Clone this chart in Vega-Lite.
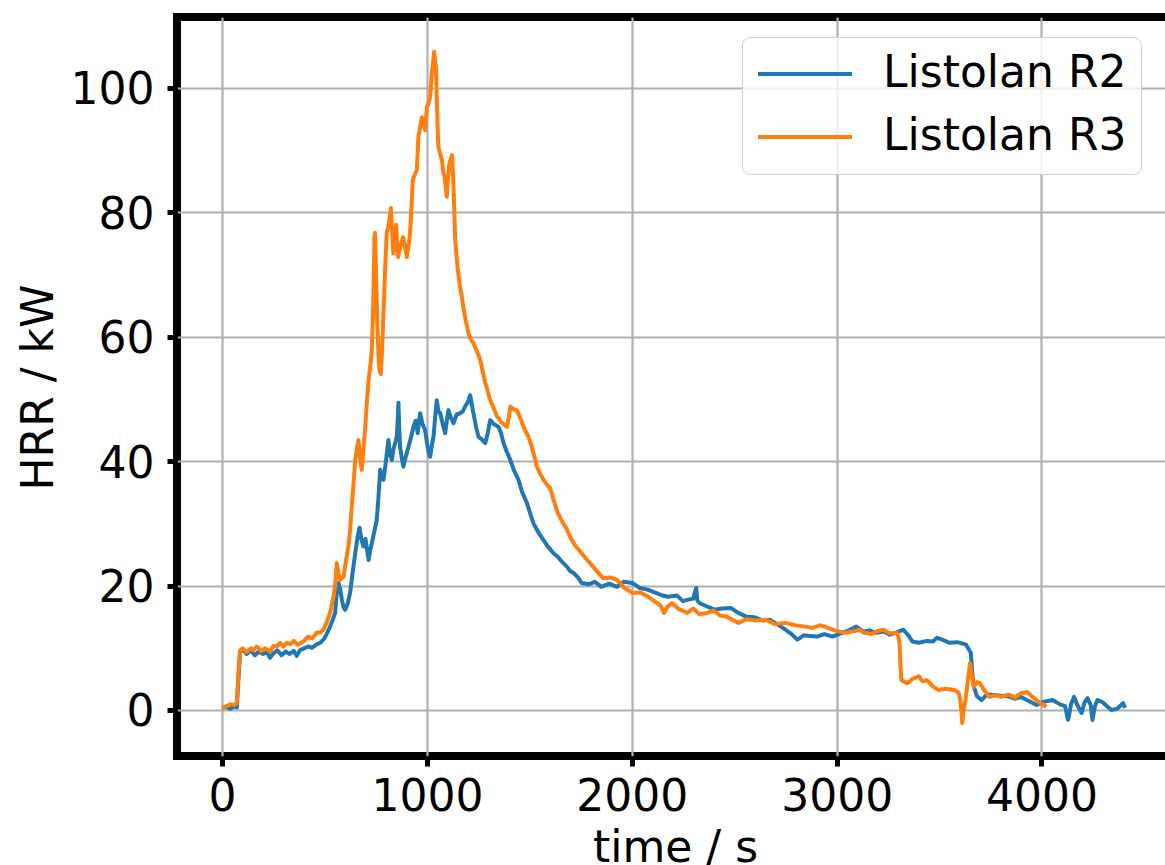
{
"$schema": "https://vega.github.io/schema/vega-lite/v6.json",
"width": 996, "height": 739,
"autosize": {"type": "none"},
"padding": {"left": 177, "top": 17, "right": 0, "bottom": 109},
"background": "white",
"config": {
  "font": "DejaVu Sans",
  "view": {"stroke": "black", "strokeWidth": 8},
  "axis": {"labelFontSize": 44, "labelColor": "black", "titleFontSize": 44, "titleFontWeight": "normal", "titleColor": "black", "tickColor": "black", "tickWidth": 5, "tickSize": 10, "domain": false, "grid": true, "gridColor": "#b0b0b0", "gridWidth": 2.2, "labelFlush": false, "labelOverlap": false}
},
"data": {"values": [
{"s":"Listolan R2","t":0,"y":0.3},{"s":"Listolan R2","t":20,"y":0.5},{"s":"Listolan R2","t":40,"y":0.2},{"s":"Listolan R2","t":60,"y":0.6},{"s":"Listolan R2","t":72,"y":0.4},{"s":"Listolan R2","t":80,"y":5},{"s":"Listolan R2","t":88,"y":9.2},{"s":"Listolan R2","t":100,"y":9.8},{"s":"Listolan R2","t":120,"y":9.0},{"s":"Listolan R2","t":140,"y":9.6},{"s":"Listolan R2","t":160,"y":8.8},{"s":"Listolan R2","t":180,"y":9.4},{"s":"Listolan R2","t":200,"y":9.0},{"s":"Listolan R2","t":220,"y":9.3},{"s":"Listolan R2","t":234,"y":8.4},{"s":"Listolan R2","t":250,"y":9.1},{"s":"Listolan R2","t":270,"y":9.6},{"s":"Listolan R2","t":290,"y":8.8},{"s":"Listolan R2","t":310,"y":9.4},{"s":"Listolan R2","t":330,"y":9.0},{"s":"Listolan R2","t":350,"y":9.5},{"s":"Listolan R2","t":365,"y":8.7},{"s":"Listolan R2","t":380,"y":9.6},{"s":"Listolan R2","t":400,"y":9.9},{"s":"Listolan R2","t":420,"y":10.2},{"s":"Listolan R2","t":440,"y":10.0},{"s":"Listolan R2","t":460,"y":10.5},{"s":"Listolan R2","t":479,"y":10.8},{"s":"Listolan R2","t":500,"y":11.5},{"s":"Listolan R2","t":515,"y":12.5},{"s":"Listolan R2","t":527,"y":13.4},{"s":"Listolan R2","t":540,"y":14.5},{"s":"Listolan R2","t":552,"y":15.6},{"s":"Listolan R2","t":560,"y":19},{"s":"Listolan R2","t":568,"y":20.4},{"s":"Listolan R2","t":576,"y":19.5},{"s":"Listolan R2","t":585,"y":17.7},{"s":"Listolan R2","t":593,"y":16.5},{"s":"Listolan R2","t":601,"y":16.1},{"s":"Listolan R2","t":612,"y":17},{"s":"Listolan R2","t":625,"y":18.8},{"s":"Listolan R2","t":637,"y":22},{"s":"Listolan R2","t":650,"y":25.2},{"s":"Listolan R2","t":660,"y":27.5},{"s":"Listolan R2","t":671,"y":29.3},{"s":"Listolan R2","t":680,"y":27.5},{"s":"Listolan R2","t":690,"y":26.3},{"s":"Listolan R2","t":700,"y":27.5},{"s":"Listolan R2","t":715,"y":24.1},{"s":"Listolan R2","t":722,"y":25.5},{"s":"Listolan R2","t":731,"y":26.8},{"s":"Listolan R2","t":742,"y":28.5},{"s":"Listolan R2","t":755,"y":30.5},{"s":"Listolan R2","t":763,"y":34},{"s":"Listolan R2","t":772,"y":38.6},{"s":"Listolan R2","t":780,"y":37.5},{"s":"Listolan R2","t":788,"y":37},{"s":"Listolan R2","t":800,"y":40},{"s":"Listolan R2","t":812,"y":43.4},{"s":"Listolan R2","t":820,"y":41},{"s":"Listolan R2","t":829,"y":40.2},{"s":"Listolan R2","t":837,"y":42},{"s":"Listolan R2","t":845,"y":42.9},{"s":"Listolan R2","t":853,"y":44},{"s":"Listolan R2","t":858,"y":47},{"s":"Listolan R2","t":861,"y":49.4},{"s":"Listolan R2","t":864,"y":46},{"s":"Listolan R2","t":869,"y":42.3},{"s":"Listolan R2","t":877,"y":40.5},{"s":"Listolan R2","t":885,"y":39.1},{"s":"Listolan R2","t":895,"y":40.5},{"s":"Listolan R2","t":910,"y":42.3},{"s":"Listolan R2","t":920,"y":43.5},{"s":"Listolan R2","t":934,"y":45.5},{"s":"Listolan R2","t":945,"y":46.5},{"s":"Listolan R2","t":955,"y":44.5},{"s":"Listolan R2","t":967,"y":47.7},{"s":"Listolan R2","t":978,"y":46},{"s":"Listolan R2","t":991,"y":45},{"s":"Listolan R2","t":1000,"y":43},{"s":"Listolan R2","t":1008,"y":41.5},{"s":"Listolan R2","t":1016,"y":40.7},{"s":"Listolan R2","t":1024,"y":42.5},{"s":"Listolan R2","t":1032,"y":43.9},{"s":"Listolan R2","t":1040,"y":47},{"s":"Listolan R2","t":1048,"y":49.8},{"s":"Listolan R2","t":1056,"y":48},{"s":"Listolan R2","t":1065,"y":47.7},{"s":"Listolan R2","t":1077,"y":46},{"s":"Listolan R2","t":1089,"y":44.5},{"s":"Listolan R2","t":1097,"y":46.5},{"s":"Listolan R2","t":1105,"y":48.2},{"s":"Listolan R2","t":1117,"y":47},{"s":"Listolan R2","t":1130,"y":46.1},{"s":"Listolan R2","t":1145,"y":47.5},{"s":"Listolan R2","t":1162,"y":47.7},{"s":"Listolan R2","t":1175,"y":48},{"s":"Listolan R2","t":1187,"y":48.8},{"s":"Listolan R2","t":1200,"y":49.5},{"s":"Listolan R2","t":1211,"y":50.6},{"s":"Listolan R2","t":1220,"y":49},{"s":"Listolan R2","t":1227,"y":47.7},{"s":"Listolan R2","t":1240,"y":45.5},{"s":"Listolan R2","t":1252,"y":43.9},{"s":"Listolan R2","t":1268,"y":43.5},{"s":"Listolan R2","t":1285,"y":42.9},{"s":"Listolan R2","t":1297,"y":44.5},{"s":"Listolan R2","t":1309,"y":46.6},{"s":"Listolan R2","t":1325,"y":46},{"s":"Listolan R2","t":1350,"y":45.5},{"s":"Listolan R2","t":1362,"y":44.5},{"s":"Listolan R2","t":1374,"y":42.9},{"s":"Listolan R2","t":1390,"y":41.5},{"s":"Listolan R2","t":1407,"y":40.2},{"s":"Listolan R2","t":1425,"y":38.5},{"s":"Listolan R2","t":1447,"y":37},{"s":"Listolan R2","t":1465,"y":35},{"s":"Listolan R2","t":1488,"y":33.3},{"s":"Listolan R2","t":1505,"y":31.5},{"s":"Listolan R2","t":1520,"y":30},{"s":"Listolan R2","t":1545,"y":28.5},{"s":"Listolan R2","t":1569,"y":27.3},{"s":"Listolan R2","t":1590,"y":26.3},{"s":"Listolan R2","t":1618,"y":25.2},{"s":"Listolan R2","t":1640,"y":24.6},{"s":"Listolan R2","t":1660,"y":23.8},{"s":"Listolan R2","t":1684,"y":23},{"s":"Listolan R2","t":1700,"y":22.3},{"s":"Listolan R2","t":1717,"y":22},{"s":"Listolan R2","t":1740,"y":21.2},{"s":"Listolan R2","t":1755,"y":20.4},{"s":"Listolan R2","t":1790,"y":20.2},{"s":"Listolan R2","t":1820,"y":20.6},{"s":"Listolan R2","t":1851,"y":19.8},{"s":"Listolan R2","t":1890,"y":20.3},{"s":"Listolan R2","t":1928,"y":19.8},{"s":"Listolan R2","t":1960,"y":20.6},{"s":"Listolan R2","t":2004,"y":20.4},{"s":"Listolan R2","t":2040,"y":19.6},{"s":"Listolan R2","t":2081,"y":19.3},{"s":"Listolan R2","t":2120,"y":18.8},{"s":"Listolan R2","t":2150,"y":18.4},{"s":"Listolan R2","t":2177,"y":18.2},{"s":"Listolan R2","t":2220,"y":18.4},{"s":"Listolan R2","t":2250,"y":17.5},{"s":"Listolan R2","t":2271,"y":17.7},{"s":"Listolan R2","t":2300,"y":17.9},{"s":"Listolan R2","t":2314,"y":19.6},{"s":"Listolan R2","t":2320,"y":17.6},{"s":"Listolan R2","t":2330,"y":17.2},{"s":"Listolan R2","t":2370,"y":16.6},{"s":"Listolan R2","t":2406,"y":16.1},{"s":"Listolan R2","t":2440,"y":16.3},{"s":"Listolan R2","t":2483,"y":16.4},{"s":"Listolan R2","t":2520,"y":15.6},{"s":"Listolan R2","t":2559,"y":15},{"s":"Listolan R2","t":2600,"y":14.9},{"s":"Listolan R2","t":2640,"y":14.4},{"s":"Listolan R2","t":2674,"y":14.5},{"s":"Listolan R2","t":2710,"y":13.8},{"s":"Listolan R2","t":2750,"y":12.9},{"s":"Listolan R2","t":2780,"y":12.2},{"s":"Listolan R2","t":2808,"y":11.3},{"s":"Listolan R2","t":2840,"y":12.0},{"s":"Listolan R2","t":2870,"y":11.9},{"s":"Listolan R2","t":2904,"y":11.8},{"s":"Listolan R2","t":2940,"y":12.2},{"s":"Listolan R2","t":2980,"y":11.8},{"s":"Listolan R2","t":3020,"y":12.3},{"s":"Listolan R2","t":3060,"y":12.8},{"s":"Listolan R2","t":3096,"y":13.4},{"s":"Listolan R2","t":3130,"y":12.6},{"s":"Listolan R2","t":3160,"y":12.8},{"s":"Listolan R2","t":3192,"y":12.4},{"s":"Listolan R2","t":3230,"y":12.6},{"s":"Listolan R2","t":3260,"y":12.1},{"s":"Listolan R2","t":3287,"y":12.4},{"s":"Listolan R2","t":3326,"y":12.9},{"s":"Listolan R2","t":3350,"y":12.0},{"s":"Listolan R2","t":3370,"y":11.0},{"s":"Listolan R2","t":3402,"y":10.8},{"s":"Listolan R2","t":3440,"y":11.1},{"s":"Listolan R2","t":3470,"y":11.0},{"s":"Listolan R2","t":3490,"y":11.6},{"s":"Listolan R2","t":3516,"y":11.3},{"s":"Listolan R2","t":3550,"y":10.8},{"s":"Listolan R2","t":3590,"y":10.9},{"s":"Listolan R2","t":3632,"y":10.5},{"s":"Listolan R2","t":3655,"y":9.2},{"s":"Listolan R2","t":3662,"y":6},{"s":"Listolan R2","t":3670,"y":3.7},{"s":"Listolan R2","t":3685,"y":2.2},{"s":"Listolan R2","t":3707,"y":1.6},{"s":"Listolan R2","t":3735,"y":2.5},{"s":"Listolan R2","t":3766,"y":2.4},{"s":"Listolan R2","t":3800,"y":2.3},{"s":"Listolan R2","t":3840,"y":2.2},{"s":"Listolan R2","t":3870,"y":1.8},{"s":"Listolan R2","t":3900,"y":2.1},{"s":"Listolan R2","t":3940,"y":1.4},{"s":"Listolan R2","t":3976,"y":0.8},{"s":"Listolan R2","t":4010,"y":1.3},{"s":"Listolan R2","t":4054,"y":1.6},{"s":"Listolan R2","t":4090,"y":0.9},{"s":"Listolan R2","t":4115,"y":0.6},{"s":"Listolan R2","t":4130,"y":-1.6},{"s":"Listolan R2","t":4145,"y":1.0},{"s":"Listolan R2","t":4159,"y":2.1},{"s":"Listolan R2","t":4175,"y":0.8},{"s":"Listolan R2","t":4196,"y":-0.5},{"s":"Listolan R2","t":4210,"y":1.2},{"s":"Listolan R2","t":4225,"y":1.9},{"s":"Listolan R2","t":4240,"y":0.8},{"s":"Listolan R2","t":4249,"y":-1.6},{"s":"Listolan R2","t":4260,"y":0.5},{"s":"Listolan R2","t":4273,"y":1.6},{"s":"Listolan R2","t":4300,"y":1.2},{"s":"Listolan R2","t":4320,"y":0.6},{"s":"Listolan R2","t":4341,"y":0.0},{"s":"Listolan R2","t":4370,"y":0.2},{"s":"Listolan R2","t":4398,"y":1.1},{"s":"Listolan R2","t":4408,"y":0.3},
{"s":"Listolan R3","t":0,"y":0.3},{"s":"Listolan R3","t":20,"y":0.6},{"s":"Listolan R3","t":40,"y":0.9},{"s":"Listolan R3","t":60,"y":0.8},{"s":"Listolan R3","t":72,"y":1.1},{"s":"Listolan R3","t":80,"y":6},{"s":"Listolan R3","t":88,"y":9.6},{"s":"Listolan R3","t":100,"y":9.9},{"s":"Listolan R3","t":120,"y":9.3},{"s":"Listolan R3","t":140,"y":9.9},{"s":"Listolan R3","t":151,"y":9.6},{"s":"Listolan R3","t":170,"y":10.2},{"s":"Listolan R3","t":190,"y":9.5},{"s":"Listolan R3","t":210,"y":9.9},{"s":"Listolan R3","t":234,"y":9.4},{"s":"Listolan R3","t":250,"y":10.3},{"s":"Listolan R3","t":267,"y":10.2},{"s":"Listolan R3","t":285,"y":10.8},{"s":"Listolan R3","t":300,"y":10.2},{"s":"Listolan R3","t":316,"y":10.8},{"s":"Listolan R3","t":335,"y":10.6},{"s":"Listolan R3","t":350,"y":11.1},{"s":"Listolan R3","t":370,"y":10.5},{"s":"Listolan R3","t":397,"y":11.0},{"s":"Listolan R3","t":420,"y":11.8},{"s":"Listolan R3","t":440,"y":11.5},{"s":"Listolan R3","t":462,"y":12.4},{"s":"Listolan R3","t":480,"y":12.5},{"s":"Listolan R3","t":495,"y":12.9},{"s":"Listolan R3","t":510,"y":14},{"s":"Listolan R3","t":527,"y":15.6},{"s":"Listolan R3","t":544,"y":18.2},{"s":"Listolan R3","t":552,"y":20},{"s":"Listolan R3","t":560,"y":23.6},{"s":"Listolan R3","t":568,"y":22},{"s":"Listolan R3","t":576,"y":20.9},{"s":"Listolan R3","t":585,"y":21.2},{"s":"Listolan R3","t":593,"y":21.4},{"s":"Listolan R3","t":605,"y":24},{"s":"Listolan R3","t":617,"y":26.3},{"s":"Listolan R3","t":625,"y":29},{"s":"Listolan R3","t":633,"y":32.7},{"s":"Listolan R3","t":641,"y":36},{"s":"Listolan R3","t":650,"y":40.2},{"s":"Listolan R3","t":658,"y":42},{"s":"Listolan R3","t":666,"y":43.4},{"s":"Listolan R3","t":672,"y":41},{"s":"Listolan R3","t":682,"y":38.6},{"s":"Listolan R3","t":690,"y":42},{"s":"Listolan R3","t":698,"y":45},{"s":"Listolan R3","t":706,"y":49},{"s":"Listolan R3","t":715,"y":53},{"s":"Listolan R3","t":723,"y":55},{"s":"Listolan R3","t":731,"y":57.9},{"s":"Listolan R3","t":738,"y":65},{"s":"Listolan R3","t":744,"y":76},{"s":"Listolan R3","t":747,"y":76.7},{"s":"Listolan R3","t":752,"y":70},{"s":"Listolan R3","t":758,"y":62},{"s":"Listolan R3","t":765,"y":56},{"s":"Listolan R3","t":770,"y":54.5},{"s":"Listolan R3","t":775,"y":54},{"s":"Listolan R3","t":781,"y":58},{"s":"Listolan R3","t":787,"y":63},{"s":"Listolan R3","t":795,"y":70},{"s":"Listolan R3","t":804,"y":76.7},{"s":"Listolan R3","t":814,"y":78},{"s":"Listolan R3","t":824,"y":80.7},{"s":"Listolan R3","t":830,"y":77},{"s":"Listolan R3","t":836,"y":73.4},{"s":"Listolan R3","t":843,"y":76},{"s":"Listolan R3","t":850,"y":78},{"s":"Listolan R3","t":855,"y":74.5},{"s":"Listolan R3","t":860,"y":72.8},{"s":"Listolan R3","t":870,"y":74.5},{"s":"Listolan R3","t":884,"y":76},{"s":"Listolan R3","t":893,"y":74.5},{"s":"Listolan R3","t":902,"y":72.8},{"s":"Listolan R3","t":910,"y":74.5},{"s":"Listolan R3","t":918,"y":76.7},{"s":"Listolan R3","t":924,"y":80.5},{"s":"Listolan R3","t":931,"y":85.2},{"s":"Listolan R3","t":940,"y":86},{"s":"Listolan R3","t":951,"y":86.8},{"s":"Listolan R3","t":958,"y":92},{"s":"Listolan R3","t":966,"y":93.5},{"s":"Listolan R3","t":975,"y":95.3},{"s":"Listolan R3","t":983,"y":94.5},{"s":"Listolan R3","t":991,"y":93.2},{"s":"Listolan R3","t":1000,"y":97},{"s":"Listolan R3","t":1008,"y":97.5},{"s":"Listolan R3","t":1016,"y":98.6},{"s":"Listolan R3","t":1024,"y":102.4},{"s":"Listolan R3","t":1030,"y":104},{"s":"Listolan R3","t":1035,"y":105.8},{"s":"Listolan R3","t":1040,"y":104.5},{"s":"Listolan R3","t":1044,"y":103.4},{"s":"Listolan R3","t":1048,"y":98.6},{"s":"Listolan R3","t":1052,"y":94},{"s":"Listolan R3","t":1056,"y":90.5},{"s":"Listolan R3","t":1064,"y":89.5},{"s":"Listolan R3","t":1073,"y":88.4},{"s":"Listolan R3","t":1080,"y":86.5},{"s":"Listolan R3","t":1086,"y":85.7},{"s":"Listolan R3","t":1092,"y":84},{"s":"Listolan R3","t":1097,"y":82.5},{"s":"Listolan R3","t":1104,"y":86},{"s":"Listolan R3","t":1110,"y":87.9},{"s":"Listolan R3","t":1116,"y":88.5},{"s":"Listolan R3","t":1122,"y":89.2},{"s":"Listolan R3","t":1126,"y":87},{"s":"Listolan R3","t":1130,"y":84.1},{"s":"Listolan R3","t":1134,"y":80},{"s":"Listolan R3","t":1138,"y":75.6},{"s":"Listolan R3","t":1150,"y":71},{"s":"Listolan R3","t":1162,"y":68},{"s":"Listolan R3","t":1170,"y":66.5},{"s":"Listolan R3","t":1178,"y":64.8},{"s":"Listolan R3","t":1190,"y":62.5},{"s":"Listolan R3","t":1203,"y":60.6},{"s":"Listolan R3","t":1215,"y":59.5},{"s":"Listolan R3","t":1227,"y":59},{"s":"Listolan R3","t":1245,"y":57.6},{"s":"Listolan R3","t":1260,"y":56.3},{"s":"Listolan R3","t":1272,"y":54.5},{"s":"Listolan R3","t":1285,"y":52.6},{"s":"Listolan R3","t":1297,"y":51.2},{"s":"Listolan R3","t":1309,"y":49.8},{"s":"Listolan R3","t":1325,"y":48.6},{"s":"Listolan R3","t":1342,"y":47.2},{"s":"Listolan R3","t":1365,"y":46.2},{"s":"Listolan R3","t":1390,"y":45.5},{"s":"Listolan R3","t":1400,"y":47},{"s":"Listolan R3","t":1407,"y":48.8},{"s":"Listolan R3","t":1420,"y":48.4},{"s":"Listolan R3","t":1439,"y":48.2},{"s":"Listolan R3","t":1455,"y":47},{"s":"Listolan R3","t":1472,"y":45.5},{"s":"Listolan R3","t":1485,"y":44.6},{"s":"Listolan R3","t":1496,"y":43.9},{"s":"Listolan R3","t":1510,"y":42.5},{"s":"Listolan R3","t":1520,"y":41.3},{"s":"Listolan R3","t":1537,"y":39.1},{"s":"Listolan R3","t":1552,"y":38},{"s":"Listolan R3","t":1569,"y":37},{"s":"Listolan R3","t":1585,"y":36.3},{"s":"Listolan R3","t":1602,"y":35.6},{"s":"Listolan R3","t":1620,"y":33.6},{"s":"Listolan R3","t":1640,"y":31.6},{"s":"Listolan R3","t":1660,"y":30.3},{"s":"Listolan R3","t":1684,"y":29},{"s":"Listolan R3","t":1698,"y":27.9},{"s":"Listolan R3","t":1720,"y":26.6},{"s":"Listolan R3","t":1755,"y":25.2},{"s":"Listolan R3","t":1785,"y":24},{"s":"Listolan R3","t":1812,"y":23},{"s":"Listolan R3","t":1840,"y":21.9},{"s":"Listolan R3","t":1861,"y":21.2},{"s":"Listolan R3","t":1895,"y":21.3},{"s":"Listolan R3","t":1928,"y":20.9},{"s":"Listolan R3","t":1965,"y":19.6},{"s":"Listolan R3","t":2004,"y":18.8},{"s":"Listolan R3","t":2040,"y":18.9},{"s":"Listolan R3","t":2081,"y":18.2},{"s":"Listolan R3","t":2110,"y":17.5},{"s":"Listolan R3","t":2140,"y":16.8},{"s":"Listolan R3","t":2157,"y":15.6},{"s":"Listolan R3","t":2175,"y":16.6},{"s":"Listolan R3","t":2196,"y":17.2},{"s":"Listolan R3","t":2230,"y":16.2},{"s":"Listolan R3","t":2271,"y":15.6},{"s":"Listolan R3","t":2300,"y":16.3},{"s":"Listolan R3","t":2330,"y":15.4},{"s":"Listolan R3","t":2368,"y":15.6},{"s":"Listolan R3","t":2400,"y":16},{"s":"Listolan R3","t":2430,"y":15.2},{"s":"Listolan R3","t":2464,"y":15},{"s":"Listolan R3","t":2490,"y":14.5},{"s":"Listolan R3","t":2521,"y":14},{"s":"Listolan R3","t":2560,"y":14.6},{"s":"Listolan R3","t":2600,"y":14.4},{"s":"Listolan R3","t":2655,"y":14.5},{"s":"Listolan R3","t":2700,"y":13.8},{"s":"Listolan R3","t":2750,"y":14},{"s":"Listolan R3","t":2800,"y":13.6},{"s":"Listolan R3","t":2847,"y":13.4},{"s":"Listolan R3","t":2880,"y":13.2},{"s":"Listolan R3","t":2920,"y":13.6},{"s":"Listolan R3","t":2943,"y":13.4},{"s":"Listolan R3","t":2990,"y":12.8},{"s":"Listolan R3","t":3038,"y":12.4},{"s":"Listolan R3","t":3080,"y":12.6},{"s":"Listolan R3","t":3110,"y":12.9},{"s":"Listolan R3","t":3134,"y":12.4},{"s":"Listolan R3","t":3170,"y":12.2},{"s":"Listolan R3","t":3200,"y":12.7},{"s":"Listolan R3","t":3229,"y":12.9},{"s":"Listolan R3","t":3260,"y":12.3},{"s":"Listolan R3","t":3297,"y":12.4},{"s":"Listolan R3","t":3303,"y":11.5},{"s":"Listolan R3","t":3307,"y":10.8},{"s":"Listolan R3","t":3312,"y":7},{"s":"Listolan R3","t":3316,"y":4.8},{"s":"Listolan R3","t":3345,"y":4.3},{"s":"Listolan R3","t":3370,"y":5.0},{"s":"Listolan R3","t":3402,"y":5.4},{"s":"Listolan R3","t":3420,"y":4.6},{"s":"Listolan R3","t":3441,"y":4.8},{"s":"Listolan R3","t":3470,"y":3.8},{"s":"Listolan R3","t":3497,"y":3.2},{"s":"Listolan R3","t":3530,"y":3.4},{"s":"Listolan R3","t":3575,"y":3.2},{"s":"Listolan R3","t":3595,"y":2.8},{"s":"Listolan R3","t":3604,"y":1.6},{"s":"Listolan R3","t":3610,"y":-0.5},{"s":"Listolan R3","t":3613,"y":-2.1},{"s":"Listolan R3","t":3620,"y":0},{"s":"Listolan R3","t":3629,"y":1.6},{"s":"Listolan R3","t":3640,"y":4.5},{"s":"Listolan R3","t":3651,"y":7.5},{"s":"Listolan R3","t":3660,"y":5.5},{"s":"Listolan R3","t":3670,"y":3.7},{"s":"Listolan R3","t":3685,"y":4.5},{"s":"Listolan R3","t":3699,"y":4.3},{"s":"Listolan R3","t":3720,"y":3.2},{"s":"Listolan R3","t":3746,"y":2.1},{"s":"Listolan R3","t":3775,"y":2.4},{"s":"Listolan R3","t":3804,"y":2.1},{"s":"Listolan R3","t":3840,"y":2.5},{"s":"Listolan R3","t":3870,"y":2.0},{"s":"Listolan R3","t":3900,"y":2.7},{"s":"Listolan R3","t":3930,"y":2.9},{"s":"Listolan R3","t":3956,"y":2.1},{"s":"Listolan R3","t":3990,"y":1.2},{"s":"Listolan R3","t":4024,"y":0.5}
]},
"mark": {"type": "line", "strokeWidth": 4, "strokeJoin": "round", "clip": true},
"encoding": {
  "x": {"field": "t", "type": "quantitative", "scale": {"domain": [-220, 4642], "nice": false, "zero": false},
        "axis": {"values": [0, 1000, 2000, 3000, 4000], "format": "d", "labelPadding": 9, "title": "time / s", "titleBaseline": "alphabetic", "titleY": 105}},
  "y": {"field": "y", "type": "quantitative", "scale": {"domain": [-7.4, 111.4], "nice": false, "zero": false},
        "axis": {"values": [0, 20, 40, 60, 80, 100], "format": "d", "labelPadding": 13, "labelOffset": 3, "title": "HRR / kW", "titleBaseline": "alphabetic", "titleX": -125, "titleY": 370}},
  "color": {"field": "s", "type": "nominal", "scale": {"domain": ["Listolan R2", "Listolan R3"], "range": ["#1f77b4", "#ff7f0e"]},
        "legend": {"orient": "none", "legendX": 565, "legendY": 20, "title": null, "labelFontSize": 44, "labelColor": "black", "labelLimit": 500, "symbolType": "stroke", "symbolStrokeWidth": 4, "symbolSize": 8836, "labelOffset": 29, "padding": 14, "clipHeight": 46, "rowPadding": 17, "fillColor": "rgba(255,255,255,0.8)", "strokeColor": "#d0d0d0", "cornerRadius": 8}}
}
}
